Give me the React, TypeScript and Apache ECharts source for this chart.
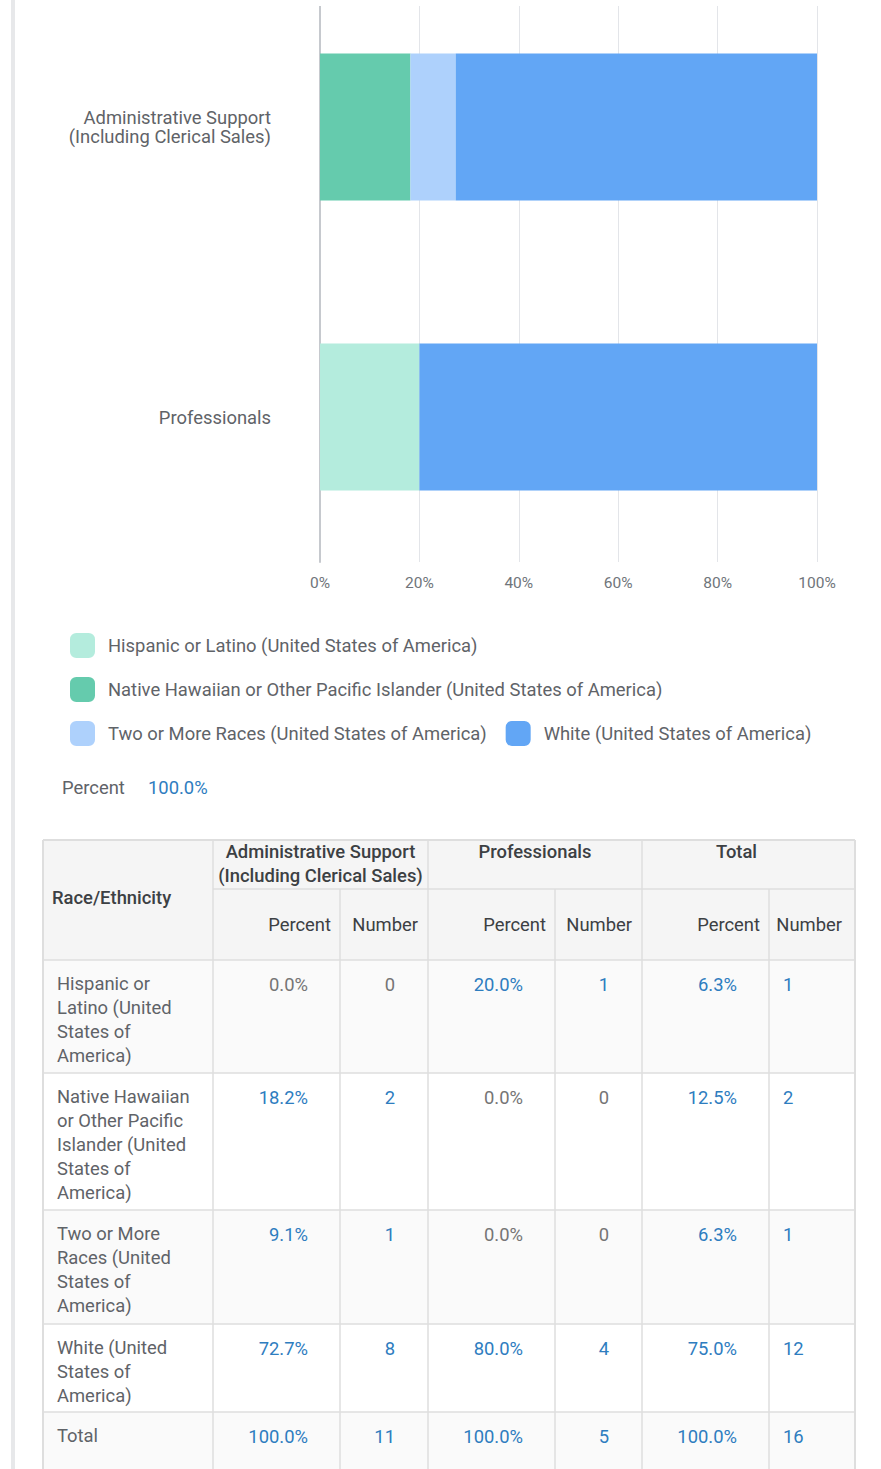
import React, { useEffect, useRef } from "react";
import * as echarts from "echarts";

const categories = ["Administrative Support (Including Clerical Sales)", "Professionals"];
const seriesNames = [
  "Hispanic or Latino (United States of America)",
  "Native Hawaiian or Other Pacific Islander (United States of America)",
  "Two or More Races (United States of America)",
  "White (United States of America)",
];
const seriesColors = ["#b4ecdd", "#65cbad", "#aed1fc", "#62a6f5"];
const xTicks = [0, 20, 40, 60, 80, 100];

const adminPercent = [0.0, 18.2, 9.1, 72.7];
const adminNumber = [0, 2, 1, 8];
const profPercent = [20.0, 0.0, 0.0, 80.0];
const profNumber = [1, 0, 0, 4];
const totalPercent = [6.3, 12.5, 6.3, 75.0];
const totalNumber = [1, 2, 1, 12];
const totalsRowPercent = [100.0, 100.0, 100.0];
const totalsRowNumber = [11, 5, 16];

const summaryLabel = "Percent";
const summaryValue = 100.0;

const tableRowLabels = [
  "Hispanic or\nLatino (United\nStates of\nAmerica)",
  "Native Hawaiian\nor Other Pacific\nIslander (United\nStates of\nAmerica)",
  "Two or More\nRaces (United\nStates of\nAmerica)",
  "White (United\nStates of\nAmerica)",
];
const totalRowLabel = "Total";
const headerFirst = "Race/Ethnicity";
const headerGroups = ["Administrative Support\n(Including Clerical Sales)", "Professionals", "Total"];
const subHeaders = ["Percent", "Number"];

const FONT = "Roboto, 'Noto Sans', sans-serif";
const FS = 18.4;
const BLUE = "#2e7dbf";
const GREY_TXT = "#5f6368";
const ZERO_TXT = "#757575";
const OFF = 18; // chart div is shifted up by this many pixels
const PAGE_H = 1469;

function buildTable(): any[] {
  const colX = [43, 213, 340, 428, 555, 642, 769, 855];
  const hdrY = [840, 889, 960].map((v) => v + OFF);
  const rowH = [113, 137, 114, 88, 70];
  const groupShift = [0, 0, -12];
  const els: any[] = [];
  const left = colX[0];
  const right = colX[colX.length - 1];
  const rowTops: number[] = [];
  let y = hdrY[2];
  for (let i = 0; i < rowH.length; i++) {
    rowTops.push(y);
    y += rowH[i];
  }
  const bottom = y;

  els.push({ type: "rect", shape: { x: left, y: hdrY[0], width: right - left, height: hdrY[2] - hdrY[0] }, style: { fill: "#f5f5f5" }, silent: true });
  rowH.forEach((h, i) => {
    els.push({ type: "rect", shape: { x: left, y: rowTops[i], width: right - left, height: h }, style: { fill: i % 2 === 0 ? "#fafafa" : "#ffffff" }, silent: true });
  });

  const lineStyle = { stroke: "#dedede", lineWidth: 1.5 };
  const hline = (x1: number, x2: number, yy: number, w = 1.5) =>
    els.push({ type: "line", shape: { x1, y1: yy, x2, y2: yy }, style: { ...lineStyle, lineWidth: w }, silent: true, z: 10 });
  const vline = (xx: number, y1: number, y2: number, w = 1.5) =>
    els.push({ type: "line", shape: { x1: xx, y1, x2: xx, y2 }, style: { ...lineStyle, lineWidth: w }, silent: true, z: 10 });

  hline(left, right, hdrY[0], 2);
  hline(colX[1], right, hdrY[1]);
  hline(left, right, hdrY[2]);
  rowTops.forEach((t, i) => {
    if (i > 0) hline(left, right, t);
  });
  vline(left, hdrY[0], bottom, 2);
  vline(right, hdrY[0], bottom, 2);
  vline(colX[1], hdrY[0], bottom);
  vline(colX[3], hdrY[0], bottom);
  vline(colX[5], hdrY[0], bottom);
  vline(colX[2], hdrY[1], bottom);
  vline(colX[4], hdrY[1], bottom);
  vline(colX[6], hdrY[1], bottom);

  const txt = (text: string, x: number, yy: number, opts: any = {}) =>
    els.push({
      type: "text",
      x,
      y: yy,
      z: 20,
      silent: true,
      style: {
        text,
        fill: opts.fill || GREY_TXT,
        fontSize: FS,
        fontFamily: FONT,
        fontWeight: opts.fontWeight || "normal",
        align: opts.align || "left",
        verticalAlign: opts.verticalAlign || "top",
        lineHeight: opts.lineHeight || 24,
      },
    });

  txt(headerFirst, left + 9, (hdrY[0] + hdrY[2]) / 2 - 3, { verticalAlign: "middle", fontWeight: 500, fill: "#3c4043" });
  headerGroups.forEach((g, gi) => {
    const cx = (colX[1 + gi * 2] + colX[3 + gi * 2]) / 2 + groupShift[gi];
    txt(g, cx, hdrY[0] - 1, { align: "center", fontWeight: 500, fill: "#3c4043" });
    txt(subHeaders[0], colX[2 + gi * 2] - 9, (hdrY[1] + hdrY[2]) / 2, { align: "right", verticalAlign: "middle", fill: "#3c4043" });
    txt(subHeaders[1], colX[3 + gi * 2] - (gi === 2 ? 13 : 10), (hdrY[1] + hdrY[2]) / 2, { align: "right", verticalAlign: "middle", fill: "#3c4043" });
  });

  const pct = (v: number) => v.toFixed(1) + "%";
  const colorOf = (v: number) => (v === 0 ? ZERO_TXT : BLUE);

  const rows = tableRowLabels.map((label, i) => ({
    label,
    values: [adminPercent[i], adminNumber[i], profPercent[i], profNumber[i], totalPercent[i], totalNumber[i]],
  }));
  rows.push({
    label: totalRowLabel,
    values: [totalsRowPercent[0], totalsRowNumber[0], totalsRowPercent[1], totalsRowNumber[1], totalsRowPercent[2], totalsRowNumber[2]],
  });

  rows.forEach((r, ri) => {
    const top = rowTops[ri] + 11;
    txt(r.label, left + 14, top, {});
    r.values.forEach((v, vi) => {
      const isPct = vi % 2 === 0;
      const s = isPct ? pct(v) : String(v);
      const colIdx = 1 + vi;
      if (vi === 5) {
        txt(s, colX[colIdx] + 14, top + 1, { fill: colorOf(v) });
      } else {
        const rx = colX[colIdx + 1] - (isPct ? 32 : 33);
        txt(s, rx, top + 1, { align: "right", fill: colorOf(v) });
      }
    });
  });

  return els;
}

export default function App() {
  const ref = useRef<HTMLDivElement>(null);

  useEffect(() => {
    if (!ref.current) return;
    const chart = echarts.init(ref.current, null, { renderer: "svg" });

    const series = seriesNames.map((name, i) => ({
      name,
      type: "bar",
      stack: "total",
      barWidth: 147,
      itemStyle: { color: seriesColors[i] },
      emphasis: { disabled: true },
      data: [adminPercent[i], profPercent[i]],
    }));

    chart.setOption({
      animation: false,
      backgroundColor: "#ffffff",
      textStyle: { fontFamily: FONT },
      grid: { left: 320, right: 64, top: 0, bottom: PAGE_H - 562, containLabel: false },
      xAxis: {
        type: "value",
        min: xTicks[0],
        max: xTicks[xTicks.length - 1],
        interval: xTicks[1] - xTicks[0],
        axisLine: { show: false },
        axisTick: { show: false },
        splitLine: { show: true, lineStyle: { color: "#e3e5e9", width: 1 } },
        axisLabel: { formatter: "{value}%", color: "#70757a", fontSize: 15.5, fontFamily: FONT, margin: 13 },
      },
      yAxis: {
        type: "category",
        data: categories,
        inverse: true,
        axisLine: { show: true, lineStyle: { color: "#c6c9ce", width: 2 } },
        axisTick: { show: false },
        splitLine: { show: false },
        axisLabel: {
          formatter: (v: string) => v.replace(" (", "\n("),
          color: GREY_TXT,
          fontSize: FS,
          lineHeight: 19,
          fontFamily: FONT,
          margin: 49,
        },
      },
      legend: {
        left: 70,
        top: 633 + OFF,
        width: 780,
        padding: 0,
        orient: "horizontal",
        itemWidth: 25,
        itemHeight: 25,
        itemGap: 19,
        icon: "roundRect",
        selectedMode: false,
        data: seriesNames,
        textStyle: { color: GREY_TXT, fontSize: FS, fontFamily: FONT, padding: [0, 0, 0, 8] },
      },
      graphic: [
        { type: "rect", shape: { x: 11, y: 0, width: 4, height: PAGE_H + OFF }, style: { fill: "#e7e8ea" }, silent: true, z: 50 },
        { type: "rect", shape: { x: 16, y: 0, width: 865, height: 6 + OFF }, style: { fill: "#ffffff" }, silent: true, z: 50 },
        {
          type: "text", x: 62, y: 787 + OFF, silent: true,
          style: { text: summaryLabel, fill: GREY_TXT, fontSize: FS, fontFamily: FONT, verticalAlign: "middle", align: "left" },
        },
        {
          type: "text", x: 148, y: 787 + OFF, silent: true,
          style: { text: summaryValue.toFixed(1) + "%", fill: BLUE, fontSize: FS, fontFamily: FONT, verticalAlign: "middle", align: "left" },
        },
        ...buildTable(),
      ],
      series,
    });

    return () => chart.dispose();
  }, []);

  return <div ref={ref} style={{ position: "absolute", left: 0, top: -OFF, width: 881, height: PAGE_H + OFF }} />;
}
